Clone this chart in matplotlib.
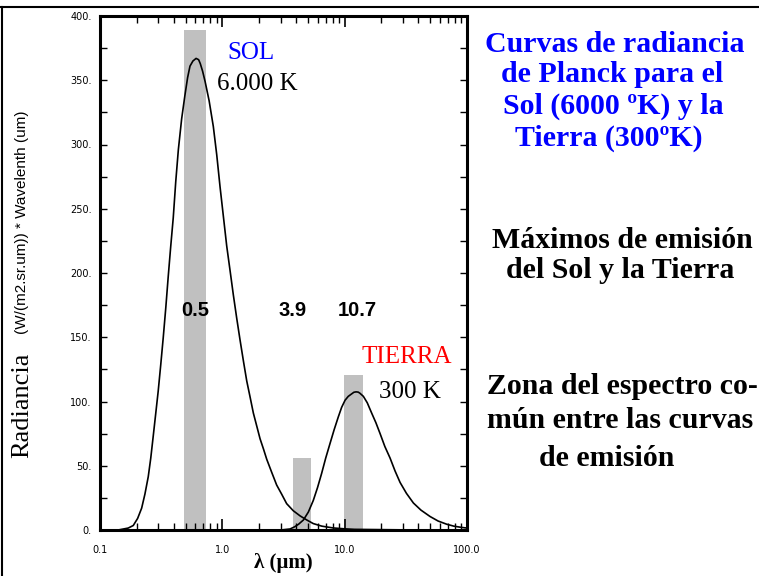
import matplotlib
matplotlib.use("Agg")
import matplotlib.pyplot as plt
from matplotlib.lines import Line2D
from matplotlib.ticker import FixedLocator, FuncFormatter, LogLocator, NullFormatter

# Spectral radiance x wavelength, Sun (6000 K)
sun_wl = [0.146, 0.170, 0.187, 0.203, 0.219, 0.233, 0.248, 0.260, 0.272, 0.285,
          0.299, 0.314, 0.329, 0.345, 0.361, 0.378, 0.397, 0.416, 0.437, 0.465,
          0.494, 0.520, 0.544, 0.575, 0.610, 0.640, 0.660, 0.690, 0.723, 0.780,
          0.844, 0.900, 0.958, 1.020, 1.086, 1.160, 1.230, 1.310, 1.395, 1.490,
          1.583, 1.690, 1.793, 1.910, 2.034, 2.170, 2.307, 2.530, 2.780, 3.050,
          3.356, 3.800, 4.319, 4.900, 5.537, 6.500, 8.04, 10.0, 12.0, 30.0,
          100.0]
sun_val = [0.3, 1.5, 3.5, 9, 17, 28, 41.5, 56, 72.6, 90,
           108, 129, 150, 173, 197, 220, 243, 271, 296, 320,
           338, 352, 361, 365, 367, 366, 363, 357, 349, 334,
           314, 292, 267, 244, 221, 201, 183, 165, 148, 131,
           116, 103, 91, 81, 71, 63, 55, 45, 35, 28,
           20.5, 15, 11, 7.8, 5, 3, 1.6, 0.9, 0.5, 0.1,
           0.0]

# Spectral radiance x wavelength, Earth (300 K)
earth_wl = [3.0, 3.58, 3.9, 4.2, 4.60, 5.05, 5.54, 6.0, 6.48, 7.0,
            7.60, 8.2, 8.87, 9.45, 10.08, 10.7, 11.43, 11.9, 12.40, 12.9,
            13.3, 14.22, 15.3, 16.62, 18.0, 19.48, 21.3, 23.50, 25.8, 28.38,
            32.0, 36.47, 42.0, 49.9, 58.0, 68.2, 78.0, 90.5, 100.0]
earth_val = [0.0, 0.8, 2.5, 4.5, 7.8, 14, 23, 33, 44, 56,
             67.5, 78, 88, 95.5, 101, 104, 106, 107.2, 107.5, 107.3,
             106.5, 104, 99, 91, 83.5, 75, 65, 56, 46, 37,
             28.5, 21, 15.5, 10.5, 7, 4.5, 3, 2.0, 1.5]

# Highlighted wavelength bands
band_lo = [0.486, 3.78, 9.89]
band_hi = [0.736, 5.31, 14.1]
band_top = [389, 56, 121]
band_labels = ["0.5", "3.9", "10.7"]

y_ticks = [0, 50, 100, 150, 200, 250, 300, 350, 400]
x_ticks = [0.1, 1.0, 10.0, 100.0]
x_tick_labels = ["0.1", "1.0", "10.0", "100.0"]

W, H = 759, 576
fig = plt.figure(figsize=(W / 100, H / 100), dpi=100)
fig.patch.set_facecolor("white")


def fx(x):
    return x / W


def fy(y):
    return 1 - y / H


SERIF = "Liberation Serif"
SANS = "Liberation Sans"

ax = fig.add_axes([fx(100), fy(530), fx(467) - fx(100), fy(16) - fy(530)])
ax.set_xscale("log")
ax.set_xlim(0.1, 100)
ax.set_ylim(0, 400)

for lo, hi, top in zip(band_lo, band_hi, band_top):
    ax.bar(lo, top, width=hi - lo, align="edge", color="#c0c0c0",
           edgecolor="none", zorder=1)

ax.plot(sun_wl, sun_val, color="black", lw=1.2, zorder=3)
ax.plot(earth_wl, earth_val, color="black", lw=1.2, zorder=3)

for s in ax.spines.values():
    s.set_linewidth(2.2)
    s.set_zorder(5)

ax.yaxis.set_major_locator(FixedLocator(y_ticks))
ax.yaxis.set_minor_locator(FixedLocator([25 + 50 * i for i in range(8)]))
ax.yaxis.set_major_formatter(FuncFormatter(lambda v, p: f"{int(v)}."))
ax.xaxis.set_major_locator(FixedLocator(x_ticks))
ax.xaxis.set_minor_locator(LogLocator(base=10, subs=range(2, 10)))
ax.xaxis.set_major_formatter(FuncFormatter(
    lambda v, p: x_tick_labels[x_ticks.index(v)] if v in x_ticks else ""))
ax.xaxis.set_minor_formatter(NullFormatter())

ax.tick_params(axis="y", which="both", direction="in", left=True, right=True,
               length=5, width=1, labelsize=7, pad=6)
ax.tick_params(axis="x", which="major", direction="in", top=True, bottom=True,
               length=8, width=1.2, labelsize=7, pad=11)
ax.tick_params(axis="x", which="minor", direction="in", top=True, bottom=True,
               length=5, width=1)
for lab in ax.get_xticklabels() + ax.get_yticklabels():
    lab.set_fontfamily("DejaVu Sans")

# Band labels and curve annotations
for lab, (px, py) in zip(band_labels, [(195, 310), (293, 310), (357, 310)]):
    fig.text(fx(px), fy(py), lab, ha="center", va="center", fontsize=14.5,
             fontweight="bold", family=SANS)

fig.text(fx(251), fy(53), "SOL", ha="center", va="center", fontsize=18,
         color="#0000ff", family=SERIF)
fig.text(fx(257), fy(84), "6.000 K", ha="center", va="center", fontsize=18,
         color="black", family=SERIF)
fig.text(fx(407), fy(357), "TIERRA", ha="center", va="center", fontsize=18,
         color="#ff0000", family=SERIF)
fig.text(fx(410), fy(392), "300 K", ha="center", va="center", fontsize=18,
         color="black", family=SERIF)

# Axis labels
fig.text(fx(283), fy(563), "λ (µm)", ha="center", va="center", fontsize=15,
         fontweight="bold", family=SERIF)
fig.text(fx(22), fy(405), "Radiancia", ha="center", va="center", rotation=90,
         fontsize=19, family=SERIF)
fig.text(fx(22), fy(222), "(W/(m2.sr.um)) * Wavelenth (um)", ha="center",
         va="center", rotation=90, fontsize=11, family=SANS)

# Side notes
blue_lines = [("Curvas de radiancia", 615, 44),
              ("de Planck para el", 612, 75),
              ("Sol (6000 ºK) y la", 613, 106),
              ("Tierra (300ºK)", 609, 138)]
for t, cx, cy in blue_lines:
    fig.text(fx(cx), fy(cy), t, ha="center", va="center", fontsize=21.5,
             fontweight="bold", color="#0000ff", family=SERIF)

black_lines = [("Máximos de emisión", 622, 240),
               ("del Sol y la Tierra", 620, 271),
               ("Zona del espectro co-", 622, 386),
               ("mún entre las curvas", 620, 421),
               ("de emisión", 607, 458)]
for t, cx, cy in black_lines:
    fig.text(fx(cx), fy(cy), t, ha="center", va="center", fontsize=21.5,
             fontweight="bold", color="black", family=SERIF)

# Frame lines along the top and left edges
fig.add_artist(Line2D([0, 1], [fy(7), fy(7)], transform=fig.transFigure,
                      color="black", lw=1.5))
fig.add_artist(Line2D([fx(1.5), fx(1.5)], [0, fy(7)], transform=fig.transFigure,
                      color="black", lw=1.5))

fig.savefig("out.png", dpi=100, facecolor="white")
